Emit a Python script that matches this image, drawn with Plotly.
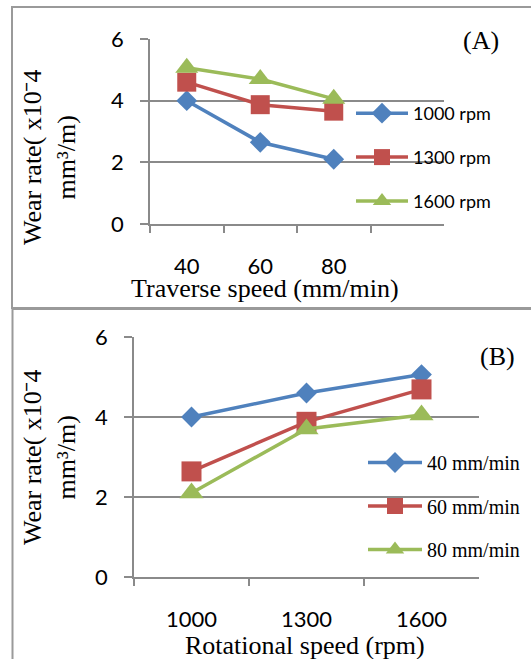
import plotly.graph_objects as go

# ---------------- data ----------------
traverse_speeds = ["40", "60", "80"]          # mm/min (panel A x)
rotational_speeds = ["1000", "1300", "1600"]  # rpm (panel B x)

# Panel A: wear rate vs traverse speed, one series per rotational speed
wear_1000rpm = [4.0, 2.65, 2.1]
wear_1300rpm = [4.6, 3.87, 3.66]
wear_1600rpm = [5.07, 4.7, 4.06]

# Panel B: wear rate vs rotational speed, one series per traverse speed
wear_40mm = [4.0, 4.6, 5.06]
wear_60mm = [2.64, 3.88, 4.69]
wear_80mm = [2.1, 3.7, 4.05]

y_ticks = [0, 2, 4, 6]

# ---------------- style ----------------
W, H = 531, 659
BLUE, RED, GREEN = "#4F81BD", "#C0504D", "#9BBB59"
GRID = "#8a8a8a"
SANS = "Lato"
SERIF = "Liberation Serif, Times New Roman, serif"


def px(x):
    return x / W


def py(y):
    return 1 - y / H


fig = go.Figure()

seriesA = [("1000 rpm", wear_1000rpm, BLUE, "diamond", 16),
           ("1300 rpm", wear_1300rpm, RED, "square", 19),
           ("1600 rpm", wear_1600rpm, GREEN, "triangle-up", 20)]
for i, (name, vals, col, sym, sz) in enumerate(seriesA):
    fig.add_trace(go.Scatter(
        x=traverse_speeds, y=vals, name=name, mode="lines+markers",
        line=dict(color=col, width=3.5),
        marker=dict(symbol=sym, size=sz, color=col),
        xaxis="x", yaxis="y", legend="legend", legendgroup="a%d" % i))

seriesB = [("40 mm/min", wear_40mm, BLUE, "diamond", 16),
           ("60 mm/min", wear_60mm, RED, "square", 20),
           ("80 mm/min", wear_80mm, GREEN, "triangle-up", 21)]
for i, (name, vals, col, sym, sz) in enumerate(seriesB):
    fig.add_trace(go.Scatter(
        x=rotational_speeds, y=vals, name=name, mode="lines+markers",
        line=dict(color=col, width=3.5),
        marker=dict(symbol=sym, size=sz, color=col),
        xaxis="x2", yaxis="y2", legend="legend2", legendgroup="b%d" % i))

xcommon = dict(type="category", showgrid=False, showline=True, linecolor=GRID,
               linewidth=1.5, ticks="outside", tickson="boundaries", ticklen=7,
               tickcolor=GRID, tickwidth=1.5, zeroline=False,
               tickfont=dict(family=SANS, size=22, color="black"),
               ticklabelstandoff=22)
ycommon = dict(range=[0, 6], tickvals=y_ticks, showgrid=True, gridcolor=GRID,
               gridwidth=1.5, showline=True, linecolor=GRID, linewidth=1.5,
               ticks="outside", ticklen=8, tickcolor=GRID, tickwidth=1.5,
               zeroline=False, tickfont=dict(family=SANS, size=22, color="black"),
               ticklabelstandoff=12)

fig.update_layout(
    width=W, height=H,
    margin=dict(l=0, r=0, t=0, b=0, autoexpand=False),
    paper_bgcolor="white", plot_bgcolor="white",
    xaxis=dict(xcommon, domain=[px(150), px(444)], range=[-0.5, 3.5], anchor="y",
               categoryorder="array", categoryarray=traverse_speeds),
    yaxis=dict(ycommon, domain=[py(224), py(39)], anchor="x"),
    xaxis2=dict(xcommon, domain=[px(134), px(479)], range=[-0.5, 2.5], anchor="y2",
                categoryorder="array", categoryarray=rotational_speeds),
    yaxis2=dict(ycommon, domain=[py(577), py(337)], anchor="x2"),
    legend=dict(x=px(351), y=py(95), xanchor="left", yanchor="top",
                font=dict(family=SANS, size=18, color="black"),
                bgcolor="rgba(0,0,0,0)", itemwidth=52, tracegroupgap=17.5),
    legend2=dict(x=px(363), y=py(443), xanchor="left", yanchor="top",
                 font=dict(family=SERIF, size=20, color="black"),
                 bgcolor="rgba(0,0,0,0)", itemwidth=54, tracegroupgap=14.5),
    showlegend=True,
)

annos = [
    dict(text="Wear rate( x10ˉ4<br>mm³/m)", x=px(50), y=py(158), textangle=-90,
         font=dict(family=SERIF, size=26, color="black")),
    dict(text="Traverse speed (mm/min)", x=px(265), y=py(288),
         font=dict(family=SERIF, size=26, color="black")),
    dict(text="(A)", x=px(481), y=py(40), font=dict(family=SERIF, size=26, color="black")),
    dict(text="Wear rate( x10ˉ4<br>mm³/m)", x=px(49), y=py(458), textangle=-90,
         font=dict(family=SERIF, size=26, color="black")),
    dict(text="Rotational speed (rpm)", x=px(305), y=py(645),
         font=dict(family=SERIF, size=26, color="black")),
    dict(text="(B)", x=px(497), y=py(357), font=dict(family=SERIF, size=26, color="black")),
]
for a in annos:
    fig.add_annotation(xref="paper", yref="paper", showarrow=False,
                       xanchor="center", yanchor="middle", **a)

# panel frames
BORDER = "#9a9a9a"
fig.add_shape(type="rect", xref="paper", yref="paper",
              x0=px(12), y0=py(308), x1=px(540), y1=py(7),
              line=dict(color=BORDER, width=2))
fig.add_shape(type="rect", xref="paper", yref="paper",
              x0=px(12.5), y0=py(670), x1=px(540), y1=py(309),
              line=dict(color=BORDER, width=2))

fig.write_html(
    "out.html",
    config={"displayModeBar": False},
    post_script="document.body.style.margin='0';document.body.style.overflow='hidden';",
)
